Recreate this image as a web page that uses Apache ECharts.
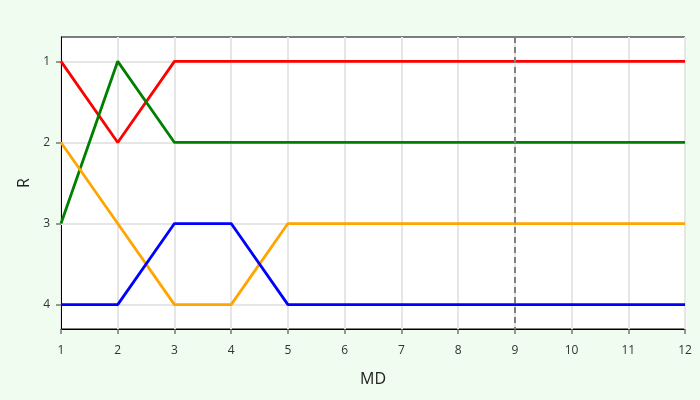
<!DOCTYPE html>
<html><head><meta charset="utf-8">
<script src="https://cdn.jsdelivr.net/npm/echarts@6/dist/echarts.min.js"></script>
<style>html,body{margin:0;padding:0;background:#effcef}#c{width:700px;height:400px}</style>
</head><body><div id="c"></div>
<script>
const md = [1,2,3,4,5,6,7,8,9,10,11,12];
const red = [1,2,1,1,1,1,1,1,1,1,1,1];
const green = [3,1,2,2,2,2,2,2,2,2,2,2];
const orange = [2,3,4,4,3,3,3,3,3,3,3,3];
const blue = [4,4,3,3,4,4,4,4,4,4,4,4];
const yTicks = [1,2,3,4];
const vLine = 9;

const font = '"Open Sans", sans-serif';
function mk(name, vals, color, extra) {
  return Object.assign({
    name, type: 'line', data: md.map((m, i) => [m, vals[i]]),
    showSymbol: false, symbol: 'none', z: 3,
    lineStyle: { color, width: 2.8 }, itemStyle: { color }
  }, extra || {});
}
const chart = echarts.init(document.getElementById('c'));
chart.setOption({
  backgroundColor: '#effcef',
  animation: false,
  grid: { left: 61, right: 15, top: 37, bottom: 71, show: true, backgroundColor: '#ffffff', borderColor: '#000', borderWidth: 1 },
  xAxis: {
    type: 'value', min: 1, max: 12, interval: 1,
    name: 'MD', nameLocation: 'middle', nameGap: 42,
    nameTextStyle: { fontSize: 16, color: '#222', fontFamily: font },
    axisLine: { show: true, lineStyle: { color: '#000', width: 1 } },
    axisTick: { show: true, length: 5, lineStyle: { color: '#777', width: 1.5 } },
    axisLabel: { fontSize: 12, color: '#333', margin: 16, fontFamily: font },
    splitLine: { show: true, lineStyle: { color: '#e6e6e6', width: 2 } }
  },
  yAxis: {
    type: 'value', inverse: true, min: 0.7, max: 4.3,
    name: 'R', nameLocation: 'middle', nameGap: 28, nameRotate: 90,
    nameTextStyle: { fontSize: 16, color: '#222', fontFamily: font },
    axisLine: { show: true, lineStyle: { color: '#000', width: 1 } },
    axisTick: { show: true, length: 5, customValues: yTicks, lineStyle: { color: '#777', width: 1.5 } },
    axisLabel: { fontSize: 12, color: '#333', margin: 11, customValues: yTicks, fontFamily: font },
    splitLine: { show: false }
  },
  series: [
    {
      type: 'line', data: [], z: 1,
      markLine: { silent: true, symbol: 'none', label: { show: false }, z: 1,
        lineStyle: { color: '#e6e6e6', type: 'solid', width: 2 },
        data: yTicks.map(v => ({ yAxis: v })) }
    },
    mk('red', red, '#ff0000', {
      markLine: { silent: true, symbol: 'none', label: { show: false },
        lineStyle: { color: '#808080', type: [6, 4], width: 2 },
        data: [{ xAxis: vLine }] }
    }),
    mk('green', green, '#008000'),
    mk('orange', orange, '#ffa500'),
    mk('blue', blue, '#0000ff')
  ]
});
</script></body></html>
